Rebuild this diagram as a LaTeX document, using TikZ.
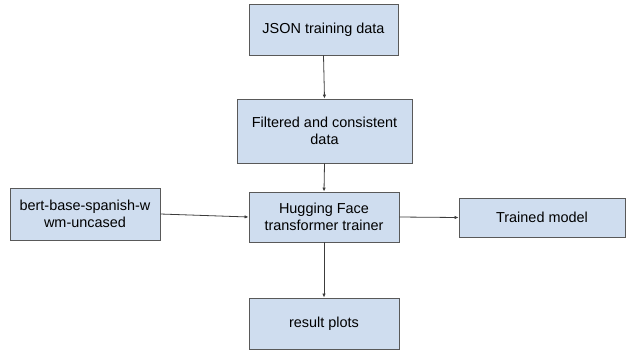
\documentclass[tikz,border=0pt]{standalone}
\usepackage{fontspec}
\setmainfont{Liberation Sans}
\usetikzlibrary{arrows.meta}
\definecolor{boxfill}{HTML}{CFDDEF}
\definecolor{boxline}{HTML}{595959}
\definecolor{arrowline}{HTML}{3C3C3C}
\begin{document}
\begin{tikzpicture}[x=1bp,y=-1bp,
  box/.style={draw=boxline,fill=boxfill,line width=0.9bp,inner sep=0pt,align=center,
    font=\fontsize{14.5}{17}\selectfont},
  conn/.style={draw=arrowline,line width=0.8bp,-{Latex[length=4bp,width=3.5bp]}}]
\useasboundingbox (0,0) rectangle (626,351);
\node[box,minimum width=149bp,minimum height=51bp] (json) at (323.5,29.5) {JSON training data};
\node[box,minimum width=175bp,minimum height=64bp] (filt) at (324.5,131) {Filtered and consistent\\data};
\node[box,minimum width=150bp,minimum height=50bp] (hf) at (324,217) {Hugging Face\\transformer trainer};
\node[box,minimum width=150bp,minimum height=52bp] (bert) at (85,214) {bert-base-spanish-w\\wm-uncased};
\node[box,minimum width=166bp,minimum height=39bp] (tm) at (542,217.5) {Trained model};
\node[box,minimum width=150bp,minimum height=51bp] (rp) at (324,323.5) {result plots};
\draw[conn] (json.south) -- (filt.north);
\draw[conn] (filt.south) -- (hf.north);
\draw[conn] (hf.south) -- (rp.north);
\draw[conn] (hf.east) -- (tm.west);
\draw[conn] (bert.east) -- (hf.west);
\end{tikzpicture}
\end{document}
